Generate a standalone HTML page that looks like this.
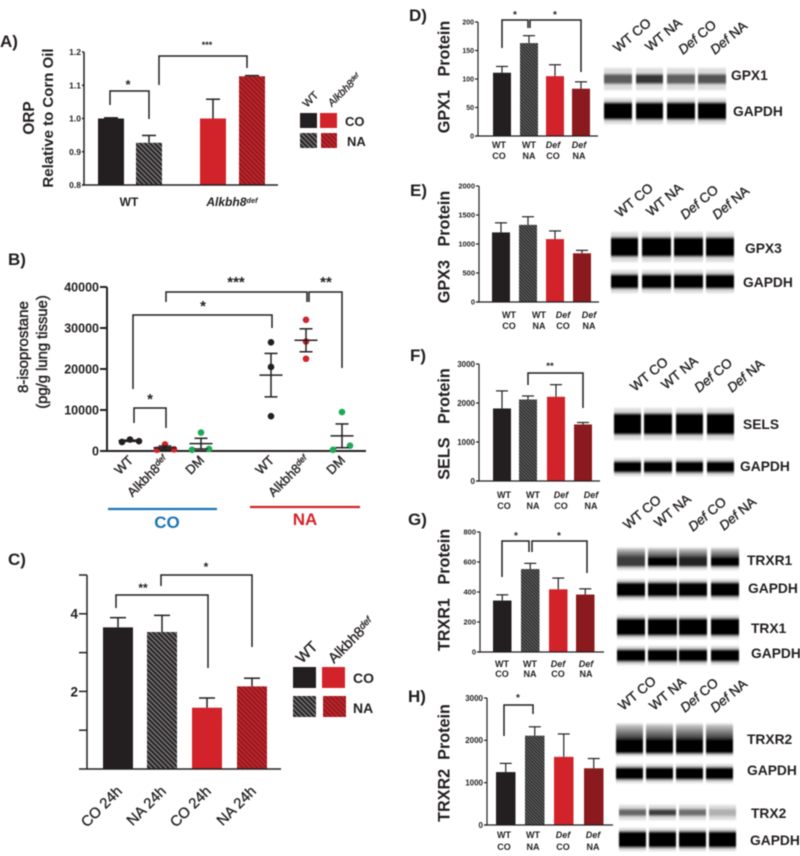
<!DOCTYPE html>
<html lang="en">
<head>
<meta charset="utf-8">
<title>Protein and oxidative stress panels</title>
<style>
html,body{margin:0;padding:0;background:#fff;width:800px;height:856px;overflow:hidden}
svg{display:block;filter:blur(.45px)}
text{font-family:"Liberation Sans",sans-serif;fill:#231f20}
.b{font-weight:bold}
.letter{font-weight:bold;font-size:17px}
.ytitle{font-weight:bold;font-size:16.2px;text-anchor:middle;white-space:pre}
.blotlabel{font-size:13.4px;stroke:#231f20;stroke-width:.35}
.band{font-weight:bold;font-size:13.8px}
.star{font-weight:bold;text-anchor:middle}
.bracket{fill:none;stroke:#231f20;stroke-width:1.5}
</style>
</head>
<body>
<svg id="figure" xmlns="http://www.w3.org/2000/svg" width="800" height="856" viewBox="0 0 800 856">
<defs>
<pattern id="hatch-black" patternUnits="userSpaceOnUse" width="3.4" height="3.4" patternTransform="rotate(45)"><rect width="3.4" height="3.4" fill="#2a2627"/><rect width="3.4" height="1.1" fill="#8a8a8a"/></pattern>
<pattern id="hatch-red" patternUnits="userSpaceOnUse" width="3.4" height="3.4" patternTransform="rotate(45)"><rect width="3.4" height="3.4" fill="#c3232a"/><rect width="3.4" height="1.3" fill="#7c1a1e"/></pattern>
<pattern id="hatch-fine" patternUnits="userSpaceOnUse" width="2.4" height="2.4" patternTransform="rotate(45)"><rect width="2.4" height="2.4" fill="#2e2e2e"/><rect width="2.4" height="1" fill="#666"/></pattern>
<linearGradient id="smear" x1="0" y1="0" x2="0" y2="1"><stop offset="0" stop-color="#d4d4d4"/><stop offset="1" stop-color="#0a0a0a"/></linearGradient>
<filter id="soft" x="-5%" y="-30%" width="110%" height="160%"><feGaussianBlur stdDeviation="0.6 1.1"/></filter>
</defs>
<rect width="800" height="856" fill="#fff"/>

<!-- Panel letters -->
<text class="letter" x="0" y="47">A)</text>
<text class="letter" x="8" y="265">B)</text>
<text class="letter" x="8" y="565">C)</text>
<text class="letter" x="409" y="21">D)</text>
<text class="letter" x="410" y="196">E)</text>
<text class="letter" x="410" y="361">F)</text>
<text class="letter" x="408" y="525">G)</text>
<text class="letter" x="408" y="702">H)</text>

<!-- Panel A annotations -->
<text class="b" font-size="15.4" text-anchor="middle" transform="translate(34 118) rotate(-90)">ORP</text>
<text class="b" font-size="15" text-anchor="middle" transform="translate(53 118) rotate(-90)">Relative to Corn Oil</text>
<text class="b" font-size="12" text-anchor="middle" x="129" y="206">WT</text>
<text class="b" font-size="12" text-anchor="middle" x="232" y="206" font-style="italic">Alkbh8<tspan dy="-3" font-size="7.5">def</tspan></text>
<path class="bracket" d="M110 105V91H149V119"/>
<path class="bracket" d="M159 85V56H247V68"/>
<text class="star" font-size="13" x="128" y="89">*</text>
<text class="star" font-size="9" x="207" y="48">***</text>
<g>
<rect x="300" y="113" width="17" height="15" fill="#231f20"/>
<rect x="320" y="113" width="17" height="15" fill="#d2232a"/>
<rect x="300" y="133" width="17" height="15" fill="url(#hatch-black)"/>
<rect x="321" y="133" width="16" height="15" fill="url(#hatch-red)"/>
<text class="b" font-size="13" x="345" y="126">CO</text>
<text class="b" font-size="13" x="347" y="146">NA</text>
<text font-size="11" stroke="#231f20" stroke-width=".3" transform="translate(307 108) rotate(-45)">WT</text>
<text font-size="10.5" font-style="italic" stroke="#231f20" stroke-width=".3" transform="translate(332 107) rotate(-45)">Alkbh8<tspan dy="-3" font-size="6.5">def</tspan></text>
</g>

<!-- Panel B annotations -->
<text font-size="15.2" stroke="#231f20" stroke-width=".45" text-anchor="middle" transform="translate(28 347) rotate(-90)">8-isoprostane</text>
<text font-size="14.8" stroke="#231f20" stroke-width=".45" text-anchor="middle" transform="translate(47 352) rotate(-90)">(pg/g lung tissue)</text>
<path class="bracket" d="M134 423V408H166V428"/>
<path class="bracket" d="M133 389V315H272V328"/>
<path class="bracket" d="M166 302V292H307V302"/>
<path class="bracket" d="M309 302V292H342V368"/>
<text class="star" font-size="15" x="150" y="404">*</text>
<text class="star" font-size="15" x="203" y="311">*</text>
<text class="star" font-size="15" x="236" y="287">***</text>
<text class="star" font-size="15" x="326" y="287">**</text>
<line x1="108" x2="217" y1="509" y2="509" stroke="#1a75b5" stroke-width="2.2"/>
<line x1="250" x2="360" y1="507" y2="507" stroke="#d2232a" stroke-width="2.2"/>
<text class="b" font-size="17" text-anchor="middle" x="167" y="528" style="fill:#1a75b5">CO</text>
<text class="b" font-size="17" text-anchor="middle" x="305" y="525" style="fill:#d2232a">NA</text>

<!-- Panel C annotations -->
<path class="bracket" d="M116 608V595H208V668"/>
<path class="bracket" d="M161 586V575H252V647"/>
<text class="star" font-size="12" x="143" y="592">**</text>
<text class="star" font-size="12" x="206" y="571">*</text>
<g>
<rect x="293" y="667" width="23" height="21" fill="#231f20"/>
<rect x="322" y="667" width="23" height="21" fill="#d2232a"/>
<rect x="293" y="696" width="23" height="21" fill="url(#hatch-black)"/>
<rect x="323" y="696" width="23" height="21" fill="url(#hatch-red)"/>
<text class="b" font-size="14" x="353" y="683">CO</text>
<text class="b" font-size="14" x="353" y="713">NA</text>
<text font-size="15" stroke="#231f20" stroke-width=".4" transform="translate(302 664) rotate(-45)">WT</text>
<text font-size="14.5" stroke="#231f20" stroke-width=".35" transform="translate(334 664) rotate(-45)">Alkbh8<tspan dy="-4" font-size="9.5" font-style="italic">def</tspan></text>
</g>

<!-- Panels D-H titles -->
<text class="ytitle" transform="translate(449.5 77) rotate(-90)">GPX1   Protein</text>
<text class="ytitle" transform="translate(449.5 247) rotate(-90)">GPX3   Protein</text>
<text class="ytitle" transform="translate(449.5 424) rotate(-90)">SELS   Protein</text>
<text class="ytitle" transform="translate(449.5 590) rotate(-90)">TRXR1   Protein</text>
<text class="ytitle" transform="translate(449.5 763) rotate(-90)">TRXR2  Protein</text>

<!-- Panels D-H brackets -->
<path class="bracket" d="M502 48V20H528V28"/>
<path class="bracket" d="M530 28V20H581V72"/>
<text class="star" font-size="10" x="515" y="18">*</text>
<text class="star" font-size="10" x="555" y="18">*</text>
<path class="bracket" d="M528 385V373H583V408"/>
<text class="star" font-size="9.5" x="550" y="369">**</text>
<path class="bracket" d="M502 577V541H529V552"/>
<path class="bracket" d="M532 552V541H587V573"/>
<text class="star" font-size="10" x="516" y="539">*</text>
<text class="star" font-size="10" x="559" y="539">*</text>
<path class="bracket" d="M504 736V705H533V714"/>
<text class="star" font-size="10" x="518" y="701">*</text>

<!-- Blot column headers -->
<g class="blotlabels">
<text class="blotlabel" transform="translate(618 53) rotate(-40)">WT CO</text>
<text class="blotlabel" transform="translate(650 52) rotate(-40)">WT NA</text>
<text class="blotlabel" font-style="italic" transform="translate(683 55) rotate(-40)">Def<tspan font-style="normal"> CO</tspan></text>
<text class="blotlabel" font-style="italic" transform="translate(715 55) rotate(-40)">Def<tspan font-style="normal"> NA</tspan></text>
<text class="blotlabel" transform="translate(620 218) rotate(-40)">WT CO</text>
<text class="blotlabel" transform="translate(651 217) rotate(-40)">WT NA</text>
<text class="blotlabel" font-style="italic" transform="translate(685 220) rotate(-40)">Def<tspan font-style="normal"> CO</tspan></text>
<text class="blotlabel" font-style="italic" transform="translate(717 220) rotate(-40)">Def<tspan font-style="normal"> NA</tspan></text>
<text class="blotlabel" transform="translate(635 392) rotate(-40)">WT CO</text>
<text class="blotlabel" transform="translate(666 390) rotate(-40)">WT NA</text>
<text class="blotlabel" font-style="italic" transform="translate(699 393) rotate(-40)">Def<tspan font-style="normal"> CO</tspan></text>
<text class="blotlabel" font-style="italic" transform="translate(732 393) rotate(-40)">Def<tspan font-style="normal"> NA</tspan></text>
<text class="blotlabel" transform="translate(628 530) rotate(-40)">WT CO</text>
<text class="blotlabel" transform="translate(659 528) rotate(-40)">WT NA</text>
<text class="blotlabel" font-style="italic" transform="translate(693 532) rotate(-40)">Def<tspan font-style="normal"> CO</tspan></text>
<text class="blotlabel" font-style="italic" transform="translate(724 531) rotate(-40)">Def<tspan font-style="normal"> NA</tspan></text>
<text class="blotlabel" transform="translate(623 711) rotate(-40)">WT CO</text>
<text class="blotlabel" transform="translate(654 711) rotate(-40)">WT NA</text>
<text class="blotlabel" font-style="italic" transform="translate(685 713) rotate(-40)">Def<tspan font-style="normal"> CO</tspan></text>
<text class="blotlabel" font-style="italic" transform="translate(715 713) rotate(-40)">Def<tspan font-style="normal"> NA</tspan></text>
</g>

<!-- Blot band labels -->
<text class="band" x="731" y="80">GPX1</text>
<text class="band" x="733" y="116">GAPDH</text>
<text class="band" x="745" y="253">GPX3</text>
<text class="band" x="743" y="287">GAPDH</text>
<text class="band" x="743" y="429">SELS</text>
<text class="band" x="740" y="471">GAPDH</text>
<text class="band" x="747" y="565">TRXR1</text>
<text class="band" x="748" y="593">GAPDH</text>
<text class="band" x="751" y="633">TRX1</text>
<text class="band" x="751" y="658">GAPDH</text>
<text class="band" x="747" y="744">TRXR2</text>
<text class="band" x="747" y="775">GAPDH</text>
<text class="band" x="751" y="818">TRX2</text>
<text class="band" x="750" y="845">GAPDH</text>

<g id="marks"></g>
</svg>

<script>
// ---------- Chart data ----------
const aValues = [1.0, 0.927, 1.0, 1.127];
const aErrors = [0.002, 0.022, 0.058, 0.002];
const aTicks = [0.8, 0.9, 1.0, 1.1, 1.2];

const bGroups = ['WT', 'Alkbh8', 'DM', 'WT', 'Alkbh8', 'DM'];
const bPointsWtCo = [2200, 2800, 2400];
const bPointsDefCo = [300, 1600, 400];
const bPointsDmCo = [300, 4500, 500];
const bPointsWtNa = [26500, 20500, 8500];
const bPointsDefNa = [32000, 26700, 22500];
const bPointsDmNa = [300, 9500, 1300];
const bMeans = [2500, 800, 1800, 18500, 27000, 3700];
const bErrors = [150, 400, 1300, 5300, 2800, 2900];
const bTicks = [0, 10000, 20000, 30000, 40000];

const cCategories = ['CO 24h', 'NA 24h', 'CO 24h', 'NA 24h'];
const cValues = [3.65, 3.53, 1.58, 2.13];
const cErrors = [0.25, 0.43, 0.25, 0.21];
const cTicks = [1, 2, 3, 4, 5];
const cTickLabels = ['', '2', '', '4', ''];

const proteinFirstLine = ['WT', 'WT', 'Def', 'Def'];
const proteinSecondLine = ['CO', 'NA', 'CO', 'NA'];

const dValues = [111, 163, 105, 83];
const dErrors = [11, 13, 20, 12];
const dTicks = [0, 50, 100, 150, 200];

const eValues = [1200, 1330, 1085, 840];
const eErrors = [165, 140, 140, 50];
const eTicks = [0, 500, 1000, 1500, 2000];

const fValues = [1860, 2090, 2160, 1450];
const fErrors = [450, 90, 310, 50];
const fTicks = [0, 1000, 2000, 3000];

const gValues = [343, 553, 418, 383];
const gErrors = [38, 38, 75, 38];
const gTicks = [0, 200, 400, 600, 800];

const hValues = [1250, 2110, 1610, 1340];
const hErrors = [205, 210, 540, 230];
const hTicks = [0, 1000, 2000, 3000];

// ---------- Helpers ----------
const NS = 'http://www.w3.org/2000/svg';
const marks = document.getElementById('marks');
const INK = '#231f20';

function mk(tag, attrs, parent) {
  const el = document.createElementNS(NS, tag);
  for (const k in attrs) el.setAttribute(k, attrs[k]);
  parent.appendChild(el);
  return el;
}
function linear(d0, d1, r0, r1) {
  return v => r0 + (v - d0) / (d1 - d0) * (r1 - r0);
}

function drawYAxis(parent, o, y, ticks, labels) {
  const axis = mk('line', {x1: o.axisX, x2: o.axisX, y1: y(ticks[ticks.length - 1]), y2: o.yBase, stroke: INK, 'stroke-width': o.axisWidth}, parent);
  
  
  ticks.forEach((t, i) => {
    const tick = mk('line', {x1: o.axisX - o.tickLen, x2: o.axisX, y1: y(t), y2: y(t), stroke: INK, 'stroke-width': o.axisWidth}, parent);
    
    
    const txt = mk('text', {x: o.axisX - o.tickLen - 1, y: y(t) + o.tickFont * 0.36, 'text-anchor': 'end', 'font-size': o.tickFont, 'font-weight': 'bold'}, parent);
    txt.textContent = labels ? labels[i] : (o.tickDigits ? t.toFixed(o.tickDigits) : String(t));
    
    
  });
  const base = mk('line', {x1: o.baseFrom, x2: o.baseTo, y1: o.yBase, y2: o.yBase, stroke: INK, 'stroke-width': o.axisWidth}, parent);
  
  
}

function drawBars(parent, o, values, errors, y) {
  values.forEach((v, i) => {
    const left = o.barLefts[i];
    const rect = mk('rect', {x: left, y: y(v), width: o.barWidth, height: o.yBase - y(v), fill: o.fills[i]}, parent);
    
    
    const cx = left + o.barWidth / 2;
    const top = y(v + errors[i]);
    const stem = mk('line', {x1: cx, x2: cx, y1: y(v), y2: top, stroke: INK, 'stroke-width': o.errWidth}, parent);
    
    
    const cap = mk('line', {x1: cx - o.capHalf, x2: cx + o.capHalf, y1: top, y2: top, stroke: INK, 'stroke-width': o.errWidth}, parent);
    
    
  });
}

// ---------- Panel A ----------
(function () {
  const g = mk('g', {}, marks);
  
  
  const o = {axisX: 84, yBase: 185, baseFrom: 82, baseTo: 278, tickLen: 2, tickFont: 8.5, tickDigits: 1, axisWidth: 1.5,
    barLefts: [98, 136, 200, 239], barWidth: 26, capHalf: 7, errWidth: 1.5,
    fills: ['#231f20', 'url(#hatch-black)', '#d2232a', 'url(#hatch-red)']};
  const y = linear(0.8, 1.2, 185, 52);
  drawBars(g, o, aValues, aErrors, y);
  drawYAxis(g, o, y, aTicks);
})();

// ---------- Panel B ----------
(function () {
  const g = mk('g', {}, marks);
  
  
  const o = {axisX: 107, yBase: 451, baseFrom: 100, baseTo: 366, tickLen: 7, tickFont: 12.5, axisWidth: 2};
  const y = linear(0, 40000, 451, 287);
  drawYAxis(g, o, y, bTicks);
  const centers = [130, 165, 201, 271, 306, 342];
  const colors = ['#231f20', '#d2232a', '#1fa855', '#231f20', '#d2232a', '#1fa855'];
  const offsets = [[-8, 0, 9], [-8, 0, 9], [-9, 0, 8], [0, 0, 0], [0, 0, 0], [-9, 0, 8]];
  const series = [bPointsWtCo, bPointsDefCo, bPointsDmCo, bPointsWtNa, bPointsDefNa, bPointsDmNa];
  series.forEach((pts, i) => {
    pts.forEach((p, j) => {
      const c = mk('circle', {cx: centers[i] + offsets[i][j], cy: y(p), r: 3.3, fill: colors[i]}, g);
      
      
    });
    const m = bMeans[i], e = bErrors[i], cx = centers[i];
    const mean = mk('line', {x1: cx - 11.5, x2: cx + 11.5, y1: y(m), y2: y(m), stroke: INK, 'stroke-width': 1.5}, g);
    
    
    const stem = mk('line', {x1: cx, x2: cx, y1: y(m - e), y2: y(m + e), stroke: INK, 'stroke-width': 1.5}, g);
    
    
    [m + e, m - e].forEach(v => {
      const cap = mk('line', {x1: cx - 6.5, x2: cx + 6.5, y1: y(v), y2: y(v), stroke: INK, 'stroke-width': 1.5}, g);
      
      
    });
    const label = mk('text', {'font-size': 13, 'text-anchor': 'end', transform: 'translate(' + (cx + 4) + ' 461) rotate(-45)', stroke: INK, 'stroke-width': .35}, g);
    
    
    label.textContent = bGroups[i];
    if (bGroups[i] === 'Alkbh8') {
      const sup = mk('tspan', {dy: -4, 'font-size': 8.5, 'font-style': 'italic'}, label);
      sup.textContent = 'def';
    }
  });
})();

// ---------- Panel C ----------
(function () {
  const g = mk('g', {}, marks);
  
  
  const o = {axisX: 87, yBase: 769, baseFrom: 79, baseTo: 281, tickLen: 8, tickFont: 13.5, axisWidth: 1.5,
    barLefts: [103, 147, 192, 237], barWidth: 30, capHalf: 8, errWidth: 1.5,
    fills: ['#231f20', 'url(#hatch-black)', '#d2232a', 'url(#hatch-red)']};
  const y = linear(0, 5, 769, 575);
  drawBars(g, o, cValues, cErrors, y);
  const low = mk('line', {x1: 110, x2: 125, y1: y(cValues[0] - cErrors[0]), y2: y(cValues[0] - cErrors[0]), stroke: INK, 'stroke-width': 1.5}, g);
  
  
  drawYAxis(g, o, y, cTicks, cTickLabels);
  cCategories.forEach((c, i) => {
    const t = mk('text', {'font-size': 14.8, 'text-anchor': 'end', stroke: INK, 'stroke-width': .3,
      transform: 'translate(' + (o.barLefts[i] + 20) + ' 792) rotate(-45)'}, g);
    t.textContent = c;
    
    
  });
})();

// ---------- Panels D-H ----------
function drawProtein(name, values, errors, ticks, o) {
  const g = mk('g', {}, marks);
  
  
  const y = linear(0, ticks[ticks.length - 1], o.yBase, o.yTop);
  o.fills = ['#231f20', 'url(#hatch-fine)', '#d2232a', '#8b1a1e'];
  o.errWidth = 1.2;
  o.capHalf = 6;
  o.tickLen = 3;
  o.axisWidth = 1.2;
  drawBars(g, o, values, errors, y);
  drawYAxis(g, o, y, ticks);
  proteinFirstLine.forEach((first, i) => {
    const t1 = mk('text', {x: o.labelXs[i], y: o.labelY1, 'text-anchor': 'middle', 'font-size': 9, 'font-weight': 'bold', 'font-style': first === 'Def' ? 'italic' : 'normal'}, g);
    t1.textContent = first;
    
    
    const t2 = mk('text', {x: o.labelXs[i], y: o.labelY2, 'text-anchor': 'middle', 'font-size': 9, 'font-weight': 'bold'}, g);
    t2.textContent = proteinSecondLine[i];
    
    
  });
}
drawProtein('panel-d', dValues, dErrors, dTicks, {axisX: 478, yBase: 136, yTop: 22, baseFrom: 475, baseTo: 598, tickFont: 7,
  barLefts: [493, 520, 546, 572], barWidth: 18, labelXs: [499, 529, 553, 579], labelY1: 148, labelY2: 159});
drawProtein('panel-e', eValues, eErrors, eTicks, {axisX: 479, yBase: 302, yTop: 186, baseFrom: 476, baseTo: 599, tickFont: 7.5,
  barLefts: [492, 519, 546, 573], barWidth: 18, labelXs: [509, 539, 563, 589], labelY1: 318, labelY2: 329});
drawProtein('panel-f', fValues, fErrors, fTicks, {axisX: 479, yBase: 481, yTop: 364, baseFrom: 476, baseTo: 600, tickFont: 8,
  barLefts: [493, 519, 547, 574], barWidth: 18, labelXs: [504, 533, 561, 591], labelY1: 498, labelY2: 509});
drawProtein('panel-g', gValues, gErrors, gTicks, {axisX: 480, yBase: 652, yTop: 532, baseFrom: 477, baseTo: 604, tickFont: 7.5,
  barLefts: [493, 521, 549, 576], barWidth: 18.5, labelXs: [502, 530, 558, 586], labelY1: 667, labelY2: 677});
drawProtein('panel-h', hValues, hErrors, hTicks, {axisX: 487, yBase: 825, yTop: 698, baseFrom: 484, baseTo: 613, tickFont: 8,
  barLefts: [496, 525, 554, 584], barWidth: 19.5, labelXs: [504, 533, 563, 593], labelY1: 838, labelY2: 850});

// ---------- Blots ----------
function drawBlot(name, bands) {
  const g = mk('g', {}, marks);
  
  
  bands.forEach(b => {
    const soft = mk('g', {filter: 'url(#soft)'}, g);
    
    
    b.lanes.forEach(lane => {
      const halo = mk('rect', {x: lane[0], width: lane[1] - lane[0], y: b.y0 - b.halo - 1, height: b.y1 - b.y0 + 2 * b.halo + 2, fill: '#dcdcdc'}, soft);
      
      
    });
    b.lanes.forEach((lane, i) => {
      if (b.smear) {
        const sm = mk('rect', {x: lane[0], width: lane[1] - lane[0], y: b.y0 - b.smear, height: b.smear + 3, fill: 'url(#smear)'}, soft);
        
        
      }
      const core = mk('rect', {x: lane[0], width: lane[1] - lane[0], y: b.y0 - 1, height: b.y1 - b.y0 + 2, fill: b.tones ? b.tones[i] : '#000'}, soft);
      
      
    });
  });
}
const L_D = [[604, 632], [636, 663], [667, 695], [698, 726]];
const L_E = [[611, 638], [642, 671], [674, 703], [706, 734]];
const L_F = [[614, 641], [644, 672], [676, 703], [707, 734]];
const L_G = [[617, 645], [648, 677], [679, 707], [711, 739]];
const L_H = [[616, 643], [646, 673], [676, 703], [706, 733]];
const L_H2 = [[619, 646], [649, 676], [679, 706], [709, 736]];
drawBlot('blot-panel-d', [
  {name: 'gpx1-band', lanes: L_D, y0: 75, y1: 83, halo: 6, tones: ['#5c5c5c', '#363636', '#5e5e5e', '#525252']},
  {name: 'gapdh-band', lanes: L_D, y0: 103, y1: 119, halo: 4}
]);
drawBlot('blot-panel-e', [
  {name: 'gpx3-band', lanes: L_E, y0: 238, y1: 256, halo: 5},
  {name: 'gapdh-band', lanes: L_E, y0: 275, y1: 288, halo: 4}
]);
drawBlot('blot-panel-f', [
  {name: 'sels-band', lanes: L_F, y0: 414, y1: 434, halo: 5},
  {name: 'gapdh-band', lanes: L_F, y0: 462, y1: 472, halo: 3}
]);
drawBlot('blot-panel-g', [
  {name: 'trxr1-band', lanes: L_G, y0: 558, y1: 566, halo: 3, smear: 10, tones: ['#3d3d3d', '#060606', '#222', '#060606']},
  {name: 'gapdh-band', lanes: L_G, y0: 583, y1: 596, halo: 3},
  {name: 'trx1-band', lanes: L_G, y0: 619, y1: 635, halo: 3},
  {name: 'gapdh-band', lanes: L_G, y0: 650, y1: 661, halo: 3}
]);
drawBlot('blot-panel-h', [
  {name: 'trxr2-band', lanes: L_H, y0: 740, y1: 753, halo: 2, smear: 16},
  {name: 'gapdh-band', lanes: L_H, y0: 768, y1: 779, halo: 3},
  {name: 'trx2-band', lanes: L_H2, y0: 810, y1: 815, halo: 4, tones: ['#666', '#3c3c3c', '#6e6e6e', '#b0b0b0']},
  {name: 'gapdh-band', lanes: L_H2, y0: 832, y1: 847, halo: 3}
]);
</script>
</body>
</html>
